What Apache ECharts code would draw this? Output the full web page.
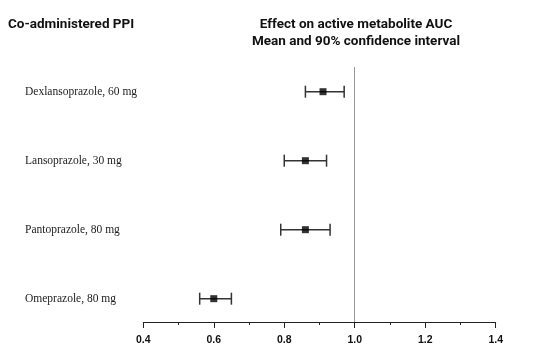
<!DOCTYPE html>
<html><head><meta charset="utf-8">
<script src="https://cdn.jsdelivr.net/npm/echarts@6/dist/echarts.min.js"></script>
<style>html,body{margin:0;padding:0;background:#fff}#c{width:551px;height:352px}</style>
</head><body><div id="c"></div>
<script>
const categories = ['Dexlansoprazole, 60 mg', 'Lansoprazole, 30 mg', 'Pantoprazole, 80 mg', 'Omeprazole, 80 mg'];
const means = [0.91, 0.86, 0.86, 0.60];
const lows  = [0.86, 0.80, 0.79, 0.56];
const highs = [0.97, 0.92, 0.93, 0.65];
const xTicks = [0.4, 0.6, 0.8, 1.0, 1.2, 1.4];
const refValue = 1.0;

const n = categories.length;
const rowPos = categories.map((c, i) => n - i);
const meanData = means.map((m, i) => [m, rowPos[i]]);
const ciData = lows.map((l, i) => [l, highs[i], rowPos[i]]);

const chart = echarts.init(document.getElementById('c'), null, {renderer: 'canvas'});
const titleFont = 'Roboto, "Liberation Sans", sans-serif';
chart.setOption({
  animation: false,
  title: [
    {text: 'Co-administered PPI', left: 8, top: 18, padding: 0,
     textStyle: {fontFamily: titleFont, fontWeight: 'bold', fontSize: 13.5, lineHeight: 14, color: '#111'}},
    {text: 'Effect on active metabolite AUC\nMean and 90% confidence interval', left: 356, top: 16.5, padding: 0, textAlign: 'center',
     textStyle: {fontFamily: titleFont, fontWeight: 'bold', fontSize: 13.5, lineHeight: 17, color: '#111'}}
  ],
  grid: [
    {left: 143.3, right: 55.3, top: 67, bottom: 30},
    {left: 143.3, right: 55.3, top: 57.2, height: 276}
  ],
  xAxis: [
    {type: 'value', gridIndex: 0, min: 0.4, max: 1.4, interval: 0.2,
     axisLine: {show: true, lineStyle: {color: '#222', width: 1}},
     axisTick: {show: true, length: 6, lineStyle: {color: '#222'}},
     minorTick: {show: true, splitNumber: 2, length: 3, lineStyle: {color: '#222'}},
     splitLine: {show: false},
     axisLabel: {margin: 13, fontFamily: 'Arial, "Liberation Sans", sans-serif', fontWeight: 'bold', fontSize: 10.5, color: '#111',
       formatter: v => v.toFixed(1)}},
    {type: 'value', gridIndex: 1, show: false, min: 0.4, max: 1.4}
  ],
  yAxis: [
    {type: 'value', gridIndex: 0, show: false, min: 0.662, max: 4.358},
    {type: 'category', gridIndex: 1, data: categories, inverse: true,
     axisLine: {show: false}, axisTick: {show: false}, splitLine: {show: false},
     axisLabel: {align: 'left', margin: 118.3, fontFamily: '"Liberation Serif", "Times New Roman", serif', fontSize: 11.5, color: '#222'}}
  ],
  series: [
    {type: 'custom', xAxisIndex: 0, yAxisIndex: 0, data: ciData,
     renderItem: function (params, api) {
       const p1 = api.coord([api.value(0), api.value(2)]);
       const p2 = api.coord([api.value(1), api.value(2)]);
       const h = 6;
       const st = {stroke: '#333', lineWidth: 1.5};
       return {type: 'group', children: [
         {type: 'line', shape: {x1: p1[0], y1: p1[1], x2: p2[0], y2: p2[1]}, style: st},
         {type: 'line', shape: {x1: p1[0], y1: p1[1] - h, x2: p1[0], y2: p1[1] + h}, style: st},
         {type: 'line', shape: {x1: p2[0], y1: p2[1] - h, x2: p2[0], y2: p2[1] + h}, style: st}
       ]};
     }},
    {type: 'scatter', xAxisIndex: 0, yAxisIndex: 0, data: meanData, symbol: 'rect', symbolSize: 7,
     itemStyle: {color: '#000'}, z: 5,
     markLine: {silent: true, symbol: ['none', 'none'], label: {show: false},
       lineStyle: {color: '#999', width: 1, type: 'solid'},
       data: [{xAxis: refValue}]}}
  ]
});
</script></body></html>
